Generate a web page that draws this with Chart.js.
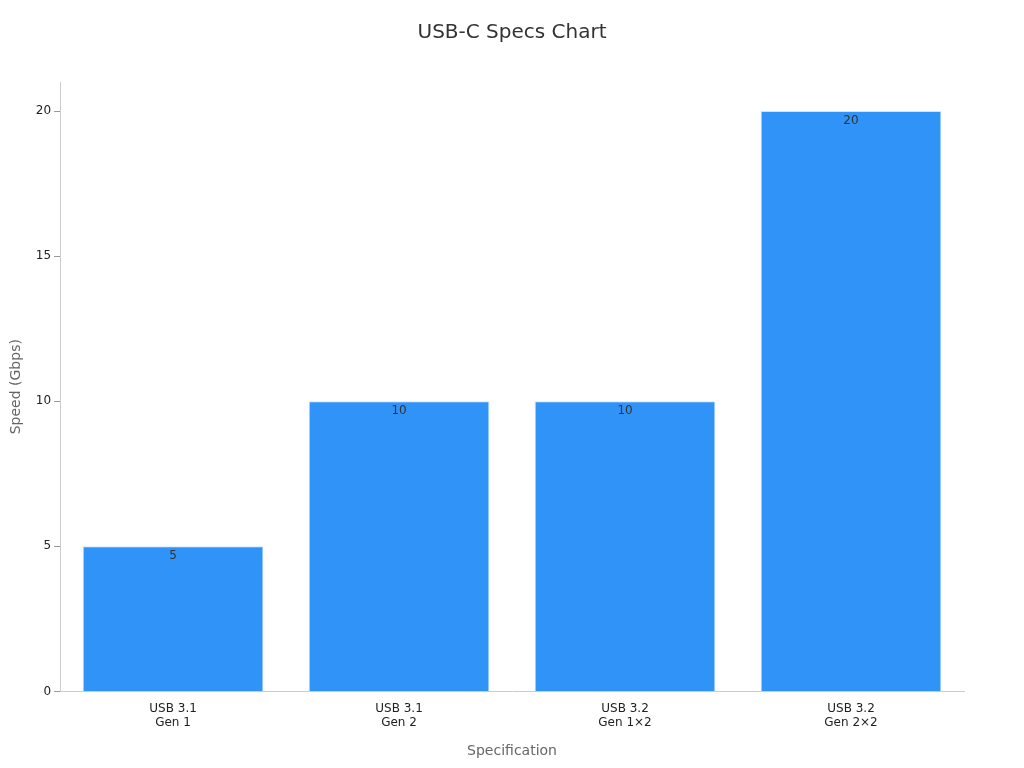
<!DOCTYPE html>
<html>
<head>
<meta charset="utf-8">
<script src="https://cdn.jsdelivr.net/npm/chart.js@4"></script>
<style>
  html, body { margin: 0; padding: 0; background: #fff; }
  #wrap { width: 1024px; height: 768px; }
</style>
</head>
<body>
<div id="wrap"><canvas id="chart"></canvas></div>
<script>
// chart data
var titleText = 'USB-C Specs Chart';
var categories = [["USB 3.1", "Gen 1"], ["USB 3.1", "Gen 2"], ["USB 3.2", "Gen 1\u00d72"], ["USB 3.2", "Gen 2\u00d72"]];
var speeds = [5, 10, 10, 20];
var yTicks = [0, 5, 10, 15, 20];

Chart.defaults.font.family = "'DejaVu Sans', sans-serif";

// value labels just under the top of each bar, and the title centred on the page
var barLabels = {
  id: 'barLabels',
  afterDatasetsDraw: function(chart) {
    var ctx = chart.ctx;
    var meta = chart.getDatasetMeta(0);
    ctx.save();
    ctx.font = "12px 'DejaVu Sans', sans-serif";
    ctx.fillStyle = '#333';
    ctx.textAlign = 'center';
    ctx.textBaseline = 'top';
    meta.data.forEach(function(bar, i) {
      ctx.fillText(String(speeds[i]), bar.x, bar.y + 4);
    });
    ctx.font = "20px 'DejaVu Sans', sans-serif";
    ctx.textBaseline = 'middle';
    ctx.fillText(titleText, chart.width / 2, 33);
    ctx.restore();
  }
};

new Chart(document.getElementById('chart'), {
  type: 'bar',
  data: {
    labels: categories,
    datasets: [{
      data: speeds,
      backgroundColor: '#2f93f8',
      borderColor: '#cfe4fb',
      borderWidth: 1,
      barPercentage: 0.8,
      categoryPercentage: 1
    }]
  },
  options: {
    responsive: true,
    maintainAspectRatio: false,
    animation: false,
    layout: { padding: { left: 4, right: 60, top: 0, bottom: 4 } },
    plugins: {
      legend: { display: false },
      tooltip: { enabled: false },
      title: {
        display: true,
        text: ' ',
        font: { size: 20, weight: 'normal' },
        padding: { top: 20, bottom: 38 }
      }
    },
    scales: {
      x: {
        grid: { display: false },
        border: { color: '#ccc' },
        ticks: { color: '#222', font: { size: 12 }, padding: 2 },
        title: { display: true, text: 'Specification', color: '#666', font: { size: 14 }, padding: { top: 11 } }
      },
      y: {
        min: 0,
        max: 21,
        afterBuildTicks: function(axis) {
          axis.ticks = yTicks.map(function(v) { return { value: v }; });
        },
        grid: { drawOnChartArea: false, drawTicks: true, tickLength: 6, color: '#999' },
        border: { color: '#ccc' },
        ticks: { color: '#222', font: { size: 12 } },
        title: { display: true, text: 'Speed (Gbps)', color: '#666', font: { size: 14 }, padding: { bottom: 8 } }
      }
    }
  },
  plugins: [barLabels]
});
</script>
</body>
</html>
